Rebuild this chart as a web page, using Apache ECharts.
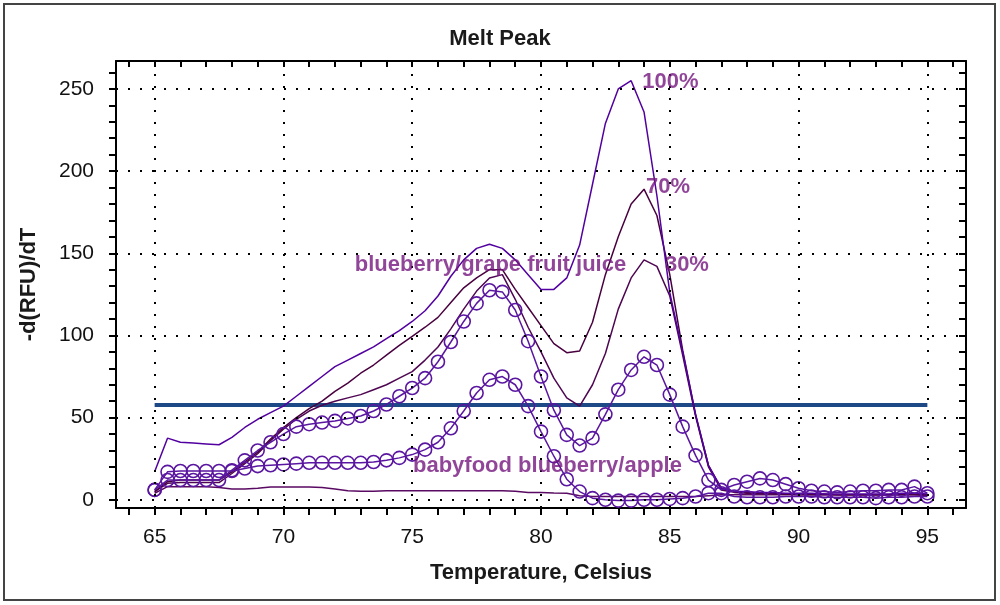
<!DOCTYPE html>
<html><head><meta charset="utf-8">
<script src="https://cdn.jsdelivr.net/npm/echarts@6/dist/echarts.min.js"></script>
<style>html,body{margin:0;padding:0;background:#fff}#c{width:1000px;height:605px}</style>
</head><body><div id="c"></div>
<script>
// Temperature (Celsius) sample points
const temps = [65,65.5,66,66.5,67,67.5,68,68.5,69,69.5,70,70.5,71,71.5,72,72.5,73,73.5,74,74.5,75,75.5,76,76.5,77,77.5,78,78.5,79,79.5,80,80.5,81,81.5,82,82.5,83,83.5,84,84.5,85,85.5,86,86.5,87,87.5,88,88.5,89,89.5,90,90.5,91,91.5,92,92.5,93,93.5,94,94.5,95];

// -d(RFU)/dT values
const pct100 = [17,37.5,35,34.5,34,33.5,38,44,49,53,57,63,69,75,81,85,89,93,98,103,108.5,115,124,136,146,153,155.5,153,146,137,128,128,135,155,192,229,250,255,236,185,126,90,52,21,7,5,5,4.5,4.5,4,4,4,3.5,3.5,3.5,3.5,3.5,3.5,4,4,3.5];
const pct70 = [5,11,12,12,12,12,17,23,29,37,44,50,55.5,60,66,71,77,82,88,94,99.5,105,111,120,129,135,140,140,128,117,106,95,89.5,90.5,108,137,160,180,189,173,137,91,52,21,7,5,4.5,4,4,3.5,3.5,3.5,3.5,3,3,3,3,3,3.5,3.5,3];
const pct30 = [5,10,10.5,10.5,10.5,10.5,16,22,28,36,43,49,54,57.5,60,62,64,67,70,74,78,85,93,104,116,127,135,137,122,105,90,74,62,57,70,89,116,135,146,142,124,88,51,20,6,4.5,4,4,3.5,3.5,3,3,3,3,3,3,3,3,3,3,2.5];
const grapeJuice = [6,12,12,12,12,12,18,24,30,35,40,44.5,46,47,48,49.5,51,54,58,63,68,74,84,96,108.5,119.5,127.5,126.5,115.5,96.5,75,54.5,39.5,33,37.5,52,67,79,87,82,64,44.5,27,12,6,9,11,13,12,9.5,7,5.5,5,4.5,5,5.5,5.5,6,6,8,4];
const babyfood = [6,17,17.5,17.5,17.5,17.5,17.5,19,20.5,21,21.5,22,22.5,22.5,22.5,22.5,22.5,23,24,25.5,27.5,30.5,35,43.5,54,65,73,75,70,57,41.5,26.5,12.5,5,1,0,-0.5,-0.5,0,0,0.5,1,2,4,4,2,1.5,1.5,1.5,2,2,2,1.5,1.5,1.5,1.5,1,1.5,1.5,2,2];
const blank = [4,8,8,8,8,7.5,6.5,6.5,7,7.8,7.8,7.8,7.8,7.5,6.5,5.5,5.2,5.2,5.5,5.5,5.5,5.5,5.5,5.5,5.5,5.5,5.5,5.5,5.2,4.5,4.5,4.2,4,2.5,2,2,2,2,2,2,2,2,2,2.5,3,3,3,3,3,3,3,3,3,3,3,3,3,3,3,3,3];

// threshold line
const thresholdX = [65, 95];
const thresholdY = [57.7, 57.7];

// axes ticks / labels
const xLabels = [65,70,75,80,85,90,95];
const xTicks = [64,65,66,67,68,69,70,71,72,73,74,75,76,77,78,79,80,81,82,83,84,85,86,87,88,89,90,91,92,93,94,95,96];
const yLabels = [0,50,100,150,200,250];
const yTicks = [0,10,20,30,40,50,60,70,80,90,100,110,120,130,140,150,160,170,180,190,200,210,220,230,240,250,260];

// annotations
const noteText = ['100%','70%','30%','blueberry/grape fruit juice','babyfood blueberry/apple'];
const noteX = [83.93, 84.08, 84.81, 72.77, 75.03];
const noteY = [254, 190.5, 143, 143, 20.4];

const FONT = 'Liberation Sans, Arial, sans-serif';
function pairs(xs, ys){ return xs.map((t,i)=>[t, ys[i]]); }

const lineSeries = (name, vals, color) => ({
  name, type:'line', data: pairs(temps, vals), showSymbol:false, symbol:'none',
  lineStyle:{color, width:1.5}, z:3
});
const circleSeries = (name, vals, color) => ({
  name, type:'line', data: pairs(temps, vals), symbol:'circle', symbolSize:13,
  itemStyle:{color:'rgba(0,0,0,0)', borderColor:color, borderWidth:1.6},
  lineStyle:{color, width:1.5}, z:4
});

const chart = echarts.init(document.getElementById('c'));
chart.setOption({
  animation:false,
  backgroundColor:'#fff',
  textStyle:{fontFamily:FONT},
  title:{text:'Melt Peak', left:'center', top:23, textStyle:{fontFamily:FONT, fontSize:22, fontWeight:'bold', color:'#1a1a1a'}},
  graphic:[{type:'rect', shape:{x:4,y:4,width:991,height:596}, style:{fill:'none', stroke:'#444', lineWidth:2}, silent:true}],
  grid:{left:116, right:34, top:61, bottom:97, containLabel:false},
  xAxis:[{
    type:'value', min:63.5, max:96.5, position:'bottom',
    axisLine:{show:true, onZero:false, lineStyle:{color:'#000', width:2}},
    axisTick:{show:true, customValues:xTicks, length:7, lineStyle:{color:'#000', width:2}},
    axisLabel:{customValues:xLabels, fontSize:21, color:'#111', margin:19, fontFamily:FONT},
    splitLine:{show:false},
    name:'Temperature, Celsius', nameLocation:'middle', nameGap:54,
    nameTextStyle:{fontSize:22, fontWeight:'bold', color:'#1a1a1a', fontFamily:FONT}
  },{
    type:'value', min:63.5, max:96.5, position:'top',
    axisLine:{show:true, onZero:false, lineStyle:{color:'#000', width:2}},
    axisTick:{show:true, inside:true, customValues:xTicks, length:6, lineStyle:{color:'#000', width:2}},
    axisLabel:{show:false}, splitLine:{show:false}
  }],
  yAxis:[{
    type:'value', min:-5, max:267, position:'left',
    axisLine:{show:true, onZero:false, lineStyle:{color:'#000', width:2}},
    axisTick:{show:true, customValues:yTicks, length:7, lineStyle:{color:'#000', width:2}},
    axisLabel:{customValues:yLabels, fontSize:21, color:'#111', margin:22, fontFamily:FONT},
    splitLine:{show:false},
    name:'-d(RFU)/dT', nameLocation:'middle', nameGap:76, nameRotate:90,
    nameTextStyle:{fontSize:22, fontWeight:'bold', color:'#1a1a1a', fontFamily:FONT}
  },{
    type:'value', min:-5, max:267, position:'right',
    axisLine:{show:true, onZero:false, lineStyle:{color:'#000', width:2}},
    axisTick:{show:true, inside:true, customValues:yTicks, length:7, lineStyle:{color:'#000', width:2}},
    axisLabel:{show:false}, splitLine:{show:false}
  }],
  series:[
    {
      name:'grid', type:'line', data:[], silent:true, z:1,
      markLine:{
        silent:true, symbol:['none','none'], label:{show:false},
        lineStyle:{type:[2,10], color:'#000', width:2},
        data: xLabels.map(v=>({xAxis:v})).concat(yLabels.map(v=>({yAxis:v})))
      }
    },
    {
      name:'threshold', type:'line', data:pairs(thresholdX, thresholdY), symbol:'none',
      lineStyle:{color:'#1d4a86', width:4}, z:2
    },
    lineSeries('blank', blank, '#5a0a62'),
    lineSeries('30%', pct30, '#4e0552'),
    lineSeries('70%', pct70, '#48003f'),
    lineSeries('100%', pct100, '#5200a0'),
    circleSeries('blueberry/grape fruit juice', grapeJuice, '#5a16a0'),
    circleSeries('babyfood blueberry/apple', babyfood, '#5a16a0'),
    {
      name:'notes', type:'scatter', symbolSize:0, z:6, silent:true,
      data: noteText.map((t,i)=>({name:t, value:[noteX[i], noteY[i]]})),
      label:{show:true, position:'right', distance:0, formatter:p=>p.name,
        fontFamily:FONT, fontSize:22, fontWeight:'bold', color:'#74167e'}
    }
  ]
});
</script></body></html>
